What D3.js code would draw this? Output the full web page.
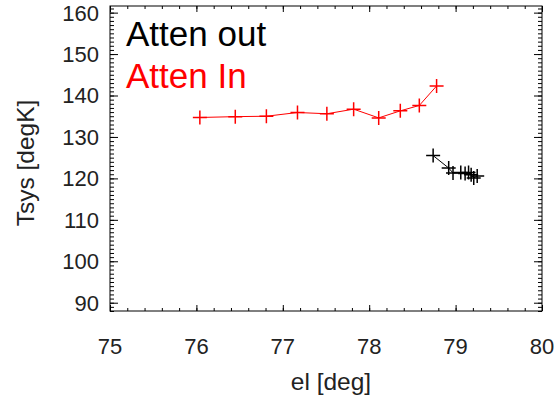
<!DOCTYPE html>
<html><head><meta charset="utf-8">
<script src="https://cdn.jsdelivr.net/npm/d3@7"></script>
<style>body{margin:0;background:#fff}svg{display:block;font-family:"Liberation Sans",Arial,Helvetica,sans-serif}</style>
</head><body><svg id="c" width="559" height="406"></svg>
<script>
const xTicks = [75, 76, 77, 78, 79, 80];
const yTicks = [90, 100, 110, 120, 130, 140, 150, 160];
const inEl   = [76.04, 76.45, 76.81, 77.17, 77.51, 77.82, 78.11, 78.36, 78.58, 78.78];
const inTsys = [134.7, 134.9, 135.0, 135.9, 135.6, 136.7, 134.6, 136.3, 137.6, 142.3];
const outEl   = [78.74, 78.92, 78.97, 79.06, 79.11, 79.15, 79.18, 79.21, 79.25];
const outTsys = [125.5, 122.5, 121.3, 121.4, 121.2, 121.4, 120.9, 120.1, 120.6];
const legend = [{label:"Atten out", color:"#000"}, {label:"Atten In", color:"#ff0000"}];

const W=559,H=406, L=110,R=542,T=6,B=311;
const svg=d3.select("#c");
const x=d3.scaleLinear().domain([75,80]).range([L,R]);
const y=d3.scaleLinear().domain([88,161.6]).range([B,T]);
const txt="#222";

svg.append("rect").attr("x",L).attr("y",T).attr("width",R-L).attr("height",B-T)
  .attr("fill","none").attr("stroke","#000").attr("stroke-width",1);

const xMinor=d3.range(75,80.0001,0.2).map(v=>+v.toFixed(2));
const yMinor=d3.range(88,161.6,1);
function ax(g){g.select(".domain").remove();g.selectAll("text").remove();g.selectAll("line").attr("stroke","#000");}
svg.append("g").attr("transform",`translate(0,${B})`).call(d3.axisTop(x).tickValues(xTicks).tickSize(6)).call(ax);
svg.append("g").attr("transform",`translate(0,${B})`).call(d3.axisTop(x).tickValues(xMinor).tickSize(3)).call(ax);
svg.append("g").attr("transform",`translate(0,${T})`).call(d3.axisBottom(x).tickValues(xTicks).tickSize(6)).call(ax);
svg.append("g").attr("transform",`translate(0,${T})`).call(d3.axisBottom(x).tickValues(xMinor).tickSize(3)).call(ax);
svg.append("g").attr("transform",`translate(${L},0)`).call(d3.axisRight(y).tickValues(yTicks).tickSize(8)).call(ax);
svg.append("g").attr("transform",`translate(${L},0)`).call(d3.axisRight(y).tickValues(yMinor).tickSize(4)).call(ax);
svg.append("g").attr("transform",`translate(${R},0)`).call(d3.axisLeft(y).tickValues(yTicks).tickSize(8)).call(ax);
svg.append("g").attr("transform",`translate(${R},0)`).call(d3.axisLeft(y).tickValues(yMinor).tickSize(4)).call(ax);

svg.append("g").selectAll("text").data(xTicks).join("text")
  .attr("x",d=>x(d)).attr("y",354).attr("text-anchor","middle")
  .attr("font-size",22).attr("fill",txt).text(d=>d);
svg.append("g").selectAll("text").data(yTicks).join("text")
  .attr("x",99).attr("y",d=>y(d)).attr("dy","0.36em").attr("text-anchor","end")
  .attr("font-size",22).attr("fill",txt).text(d=>d);

svg.append("text").attr("x",331).attr("y",390).attr("text-anchor","middle")
  .attr("font-size",24.5).attr("fill",txt).text("el [deg]");
svg.append("text").attr("transform","translate(34,163) rotate(-90)").attr("text-anchor","middle")
  .attr("font-size",24.5).attr("fill",txt).text("Tsys [degK]");

svg.append("clipPath").attr("id","cp").append("rect").attr("x",L).attr("y",T).attr("width",R-L).attr("height",B-T);
function series(xs,ys,color){
  const pts=xs.map((v,i)=>[v,ys[i]]);
  const g=svg.append("g").attr("clip-path","url(#cp)");
  g.append("path").datum(pts).attr("fill","none").attr("stroke",color).attr("stroke-width",1)
    .attr("d",d3.line().x(d=>x(d[0])).y(d=>y(d[1])));
  const s=7;
  g.selectAll("path.m").data(pts).join("path").attr("class","m")
    .attr("d",d=>`M${x(d[0])-s},${y(d[1])}H${x(d[0])+s}M${x(d[0])},${y(d[1])-s}V${y(d[1])+s}`)
    .attr("stroke",color).attr("stroke-width",1.5).attr("fill","none");
}
series(inEl,inTsys,"#ff0000");
series(outEl,outTsys,"#000");

svg.append("g").selectAll("text").data(legend).join("text")
  .attr("x",126).attr("y",(d,i)=>46+i*42).attr("font-size",35)
  .attr("fill",d=>d.color).text(d=>d.label);
</script></body></html>
